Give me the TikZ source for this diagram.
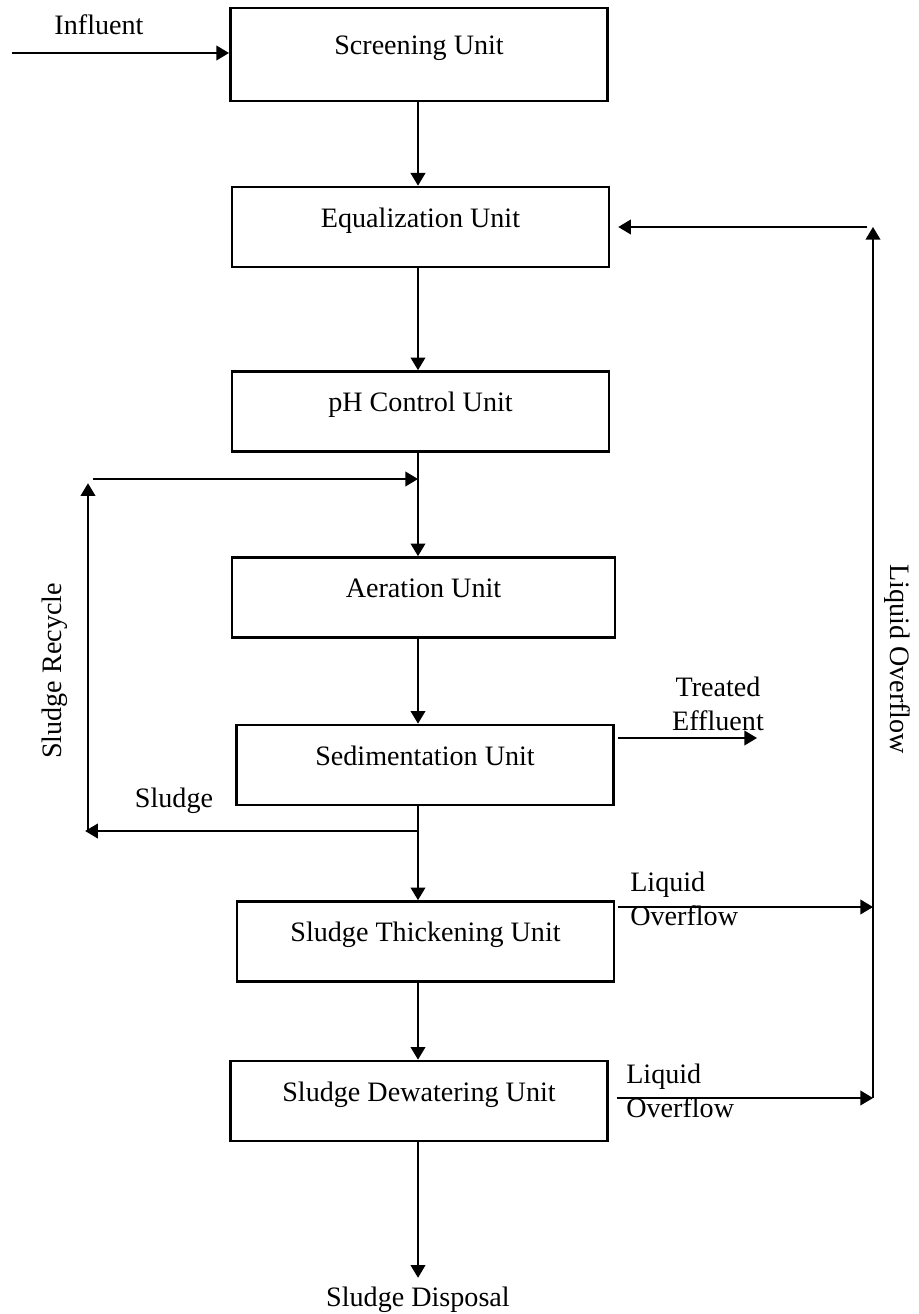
\documentclass[tikz,border=0pt]{standalone}
\usepackage{fontspec}
\setmainfont{Liberation Serif}
\usetikzlibrary{arrows.meta}

\begin{document}
\begin{tikzpicture}[
    x=0.025cm, y=-0.025cm,
    unitbox/.style={
      draw,
      line width=1.9pt,
      minimum width=9.43cm,
      minimum height=2cm,
      inner sep=0pt,
      text height=7pt,
      text depth=7pt,
      font=\fontsize{20}{24}\selectfont
    },
    lbl/.style={inner sep=0pt, font=\fontsize{20}{24}\selectfont},
    arrow/.style={-{Triangle[length=9pt,width=10.5pt]}, line width=1pt}
  ]
    \useasboundingbox (0,0) rectangle (919,1314);

    % treatment units
    \node[unitbox, minimum height=2.33cm] (screen) at (419,54.5) {Screening Unit};
    \node[unitbox] (equal) at (420.5,227) {Equalization Unit};
    \node[unitbox] (ph) at (420.5,411.5) {pH Control Unit};
    \node[unitbox, minimum width=9.57cm] (aer) at (423.5,597.5) {Aeration Unit};
    \node[unitbox] (sed) at (425,765) {Sedimentation Unit};
    \node[unitbox] (thick) at (425.5,941.5) {Sludge Thickening Unit};
    \node[unitbox] (dewat) at (419,1101) {Sludge Dewatering Unit};

    % labels
    \node[lbl, anchor=base] (influent) at (99,35) {Influent};
    \node[lbl, anchor=base] (sludge) at (174,807) {Sludge};
    \node[lbl, rotate=90] (recycle) at (55,671) {Sludge Recycle};
    \node[lbl, rotate=-90] (overflow) at (897,659) {Liquid Overflow};
    \node[lbl, align=center, anchor=base] (effluent) at (718,730) {Treated\\Effluent};
    \node[lbl, align=left, anchor=base west] (thickliq) at (630,925) {Liquid\\Overflow};
    \node[lbl, align=left, anchor=base west] (dewatliq) at (626,1117) {Liquid\\Overflow};
    \node[lbl, anchor=base] (disposal) at (418,1306) {Sludge Disposal};

    \coordinate (col) at (418,0);
    \coordinate (inlet) at (12,53);
    \coordinate (rejoin) at (418,479);
    \coordinate (sludgeout) at (418,831);
    \coordinate (recbot) at (88,831);
    \coordinate (rectop) at (88,479);
    \coordinate (ovtop) at (873,227);
    \coordinate (ovbot) at (873,1098);
    \coordinate (effout) at (757,738);

    % main line
    \draw[arrow] (inlet) -- (screen.west |- inlet);
    \draw[arrow] (screen.south -| col) -- (equal.north -| col);
    \draw[arrow] (equal.south -| col) -- (ph.north -| col);
    \draw[arrow] (ph.south -| col) -- (aer.north -| col);
    \draw[arrow] (aer.south -| col) -- (sed.north -| col);
    \draw[arrow] (sed.south -| col) -- (thick.north -| col);
    \draw[arrow] (thick.south -| col) -- (dewat.north -| col);
    \draw[arrow, shorten >=6pt] (dewat.south -| col) -- (disposal);

    % sludge recycle
    \draw[arrow] (sludgeout) -- ([xshift=-2pt]recbot);
    \draw[arrow, shorten >=3pt] (recbot) -- (rectop);
    \draw[arrow, shorten <=3.5pt] (rectop) -- (rejoin);

    % effluent and liquid overflow
    \draw[arrow, shorten <=2pt] (sed.east |- effout) -- (effout);
    \draw[arrow, shorten <=2pt] (thick.east |- 0,907) -- (ovtop |- 0,907);
    \draw[arrow, shorten <=5.5pt] (dewat.east |- ovbot) -- (ovbot);
    \draw[arrow] (ovbot) -- (ovtop);
    \draw[arrow, shorten <=4pt, shorten >=5.5pt] (ovtop) -- (equal.east |- ovtop);
  \end{tikzpicture}
\end{document}
